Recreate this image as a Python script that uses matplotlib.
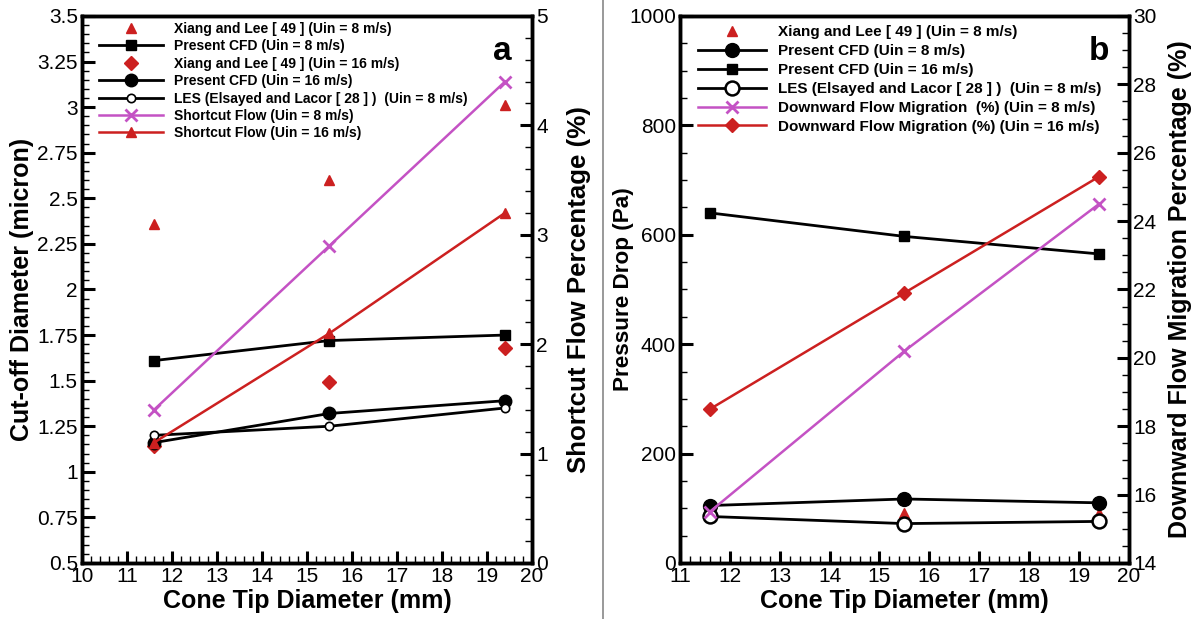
import numpy as np
import matplotlib
matplotlib.use("Agg")
import matplotlib.pyplot as plt
from matplotlib.ticker import MultipleLocator, FuncFormatter
from matplotlib.lines import Line2D

plt.rcParams['font.family'] = ['Liberation Sans', 'DejaVu Sans']

# cone tip diameters (mm)
tip = [11.6, 15.5, 19.4]

# panel a: cut-off diameter (micron), shortcut flow (%)
xiang_d50_8 = [2.36, 2.60, 3.01]
cfd_d50_8 = [1.61, 1.72, 1.75]
xiang_d50_16 = [1.14, 1.49, 1.68]
cfd_d50_16 = [1.16, 1.32, 1.39]
les_d50_8 = [1.20, 1.25, 1.35]
shortcut_8 = [1.40, 2.90, 4.40]
shortcut_16 = [1.10, 2.10, 3.20]

# panel b: pressure drop (Pa), downward flow migration (%)
xiang_dp_8 = [95, 92, 92]
cfd_dp_8 = [105, 117, 110]
cfd_dp_16 = [640, 597, 565]
les_dp_8 = [85, 72, 76]
downward_8 = [15.5, 20.2, 24.5]
downward_16 = [18.5, 21.9, 25.3]

RED = '#cc2020'
MAG = '#c452c4'
TICK_FS = 15
LAB_FS = 18

fmt = FuncFormatter(lambda v, p: '{:g}'.format(round(v, 4)))


def style_axis(ax, ymaj, ymin, xmaj=None, xmin=None):
    if xmaj is not None:
        ax.xaxis.set_major_locator(MultipleLocator(xmaj))
        ax.xaxis.set_minor_locator(MultipleLocator(xmin))
        ax.xaxis.set_major_formatter(fmt)
    ax.yaxis.set_major_locator(MultipleLocator(ymaj))
    ax.yaxis.set_minor_locator(MultipleLocator(ymin))
    ax.yaxis.set_major_formatter(fmt)
    ax.tick_params(which='major', direction='in', length=9, width=2.2, labelsize=TICK_FS, pad=3)
    ax.tick_params(which='minor', direction='in', length=5, width=1.0)
    for s in ax.spines.values():
        s.set_linewidth(2.5)


fig = plt.figure(figsize=(11.95, 6.19), dpi=100)

# ---------------- panel a ----------------
ax1 = fig.add_axes([0.0686, 0.0905, 0.3766, 0.8837])
ax1.set_xlim(10, 20)
ax1.set_ylim(0.5, 3.5)
style_axis(ax1, 0.25, 0.05, 1, 0.2)
ax1.tick_params(axis='y', right=False)

h1 = ax1.plot(tip, xiang_d50_8, ls='none', marker='^', ms=7, color=RED, label='Xiang and Lee [ 49 ] (Uin = 8 m/s)')
h2 = ax1.plot(tip, cfd_d50_8, color='k', lw=2, marker='s', ms=7, label='Present CFD (Uin = 8 m/s)')
h3 = ax1.plot(tip, xiang_d50_16, ls='none', marker='D', ms=7, color=RED, label='Xiang and Lee [ 49 ] (Uin = 16 m/s)')
h4 = ax1.plot(tip, cfd_d50_16, color='k', lw=2, marker='o', ms=9, label='Present CFD (Uin = 16 m/s)')
h5 = ax1.plot(tip, les_d50_8, color='k', lw=2, marker='o', ms=6, mfc='white', mew=1.2,
              label='LES (Elsayed and Lacor [ 28 ] )  (Uin = 8 m/s)')
ax1.set_xlabel('Cone Tip Diameter (mm)', fontsize=LAB_FS, fontweight='bold', labelpad=2)
ax1.set_ylabel('Cut-off Diameter (micron)', fontsize=LAB_FS, fontweight='bold', labelpad=2)

ax1r = ax1.twinx()
ax1r.set_ylim(0, 5)
style_axis(ax1r, 1, 0.2)
h6 = ax1r.plot(tip, shortcut_8, color=MAG, lw=1.8, marker='x', ms=9, mew=2, label='Shortcut Flow (Uin = 8 m/s)')
h7 = ax1r.plot(tip, shortcut_16, color=RED, lw=1.8, marker='^', ms=7, label='Shortcut Flow (Uin = 16 m/s)')
ax1r.set_ylabel('Shortcut Flow Percentage (%)', fontsize=18.6, fontweight='bold', labelpad=14)

hs = h1 + h2 + h3 + h4 + h5 + h6 + h7
ax1r.legend(hs, [h.get_label() for h in hs], loc='upper left', bbox_to_anchor=(0.01, 1.012),
            frameon=False, handlelength=4.6, handletextpad=0.8, labelspacing=0.245,
            prop={'size': 10, 'weight': 'bold'})
ax1r.text(0.955, 0.935, 'a', transform=ax1r.transAxes, fontsize=24, fontweight='bold',
          ha='right', va='center')

# ---------------- panel b ----------------
ax2 = fig.add_axes([0.569, 0.0905, 0.3757, 0.8837])
ax2.set_xlim(11, 20)
ax2.set_ylim(0, 1000)
style_axis(ax2, 200, 50, 1, 0.2)
ax2.tick_params(axis='y', right=False)

g1 = ax2.plot(tip, xiang_dp_8, ls='none', marker='^', ms=7, color=RED, label='Xiang and Lee [ 49 ] (Uin = 8 m/s)')
g2 = ax2.plot(tip, cfd_dp_8, color='k', lw=2, marker='o', ms=10, label='Present CFD (Uin = 8 m/s)')
g3 = ax2.plot(tip, cfd_dp_16, color='k', lw=2, marker='s', ms=7, label='Present CFD (Uin = 16 m/s)')
g4 = ax2.plot(tip, les_dp_8, color='k', lw=2, marker='o', ms=10, mfc='white', mew=1.8,
              label='LES (Elsayed and Lacor [ 28 ] )  (Uin = 8 m/s)')
ax2.set_xlabel('Cone Tip Diameter (mm)', fontsize=LAB_FS, fontweight='bold', labelpad=2)
ax2.set_ylabel('Pressure Drop (Pa)', fontsize=16.2, fontweight='bold', labelpad=-4)

ax2r = ax2.twinx()
ax2r.set_ylim(14, 30)
style_axis(ax2r, 2, 0.5)
g5 = ax2r.plot(tip, downward_8, color=MAG, lw=1.8, marker='x', ms=9, mew=2,
               label='Downward Flow Migration  (%) (Uin = 8 m/s)')
g6 = ax2r.plot(tip, downward_16, color=RED, lw=1.8, marker='D', ms=7,
               label='Downward Flow Migration (%) (Uin = 16 m/s)')
ax2r.set_ylabel('Downward Flow Migration Percentage (%)', fontsize=LAB_FS, fontweight='bold', labelpad=8)

gs = g1 + g2 + g3 + g4 + g5 + g6
ax2r.legend(gs, [g.get_label() for g in gs], loc='upper left', bbox_to_anchor=(0.01, 1.008),
            frameon=False, handlelength=4.45, handletextpad=0.8, labelspacing=0.32,
            prop={'size': 11, 'weight': 'bold'})
ax2r.text(0.955, 0.935, 'b', transform=ax2r.transAxes, fontsize=24, fontweight='bold',
          ha='right', va='center')

# divider between the panels
fig.add_artist(Line2D([0.5046, 0.5046], [0, 1], transform=fig.transFigure, color='#888888', lw=1.2))

fig.savefig('out.png', dpi=100)
